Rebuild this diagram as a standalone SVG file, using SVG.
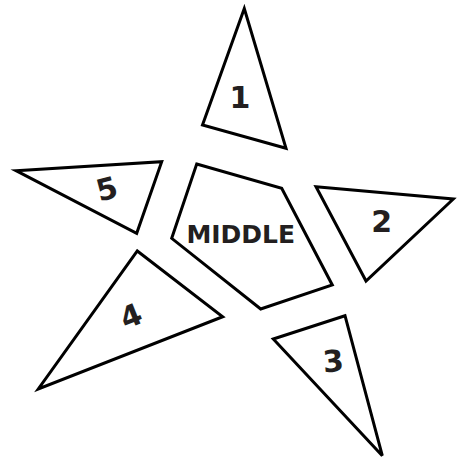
<svg xmlns="http://www.w3.org/2000/svg" width="464" height="460" viewBox="0 0 464 460">
<style>
.shape{fill:#fff;stroke:#000;stroke-width:3;stroke-linejoin:miter}
.num{font-family:"DejaVu Sans",sans-serif;font-weight:bold;font-size:30px;fill:#231f20;text-anchor:middle}
.mid{font-family:"DejaVu Sans",sans-serif;font-weight:bold;font-size:25px;fill:#231f20;text-anchor:middle}
</style>
<rect width="464" height="460" fill="#fff"/>
<g id="node-1">
<polygon class="shape" points="244.3,8.5 202.5,125 286,148.3"/>
<text class="num" x="240" y="108">1</text>
</g>
<g id="node-5">
<polygon class="shape" points="16,170.7 161.7,161.7 136.7,233.3"/>
<text class="num" x="106.7" y="199.3" transform="rotate(-15 106.7 188.3)">5</text>
</g>
<g id="node-middle">
<polygon class="shape" points="196.7,164 281.7,188.3 332.3,285 260.7,309 171.7,238.3"/>
<text class="mid" x="240.8" y="243">MIDDLE</text>
</g>
<g id="node-2">
<polygon class="shape" points="316,186.7 453.3,199 366,281"/>
<text class="num" x="381.7" y="231.7">2</text>
</g>
<g id="node-4">
<polygon class="shape" points="137.3,251 222.7,316.7 38.3,389"/>
<text class="num" x="130.7" y="326.7" transform="rotate(-22 130.7 315.7)">4</text>
</g>
<g id="node-3">
<polygon class="shape" points="273.3,339 345,315.7 382.3,455.7"/>
<text class="num" x="333.3" y="371.7" transform="rotate(-5 333.3 360.7)">3</text>
</g>
<g id="connectors"></g>
</svg>
